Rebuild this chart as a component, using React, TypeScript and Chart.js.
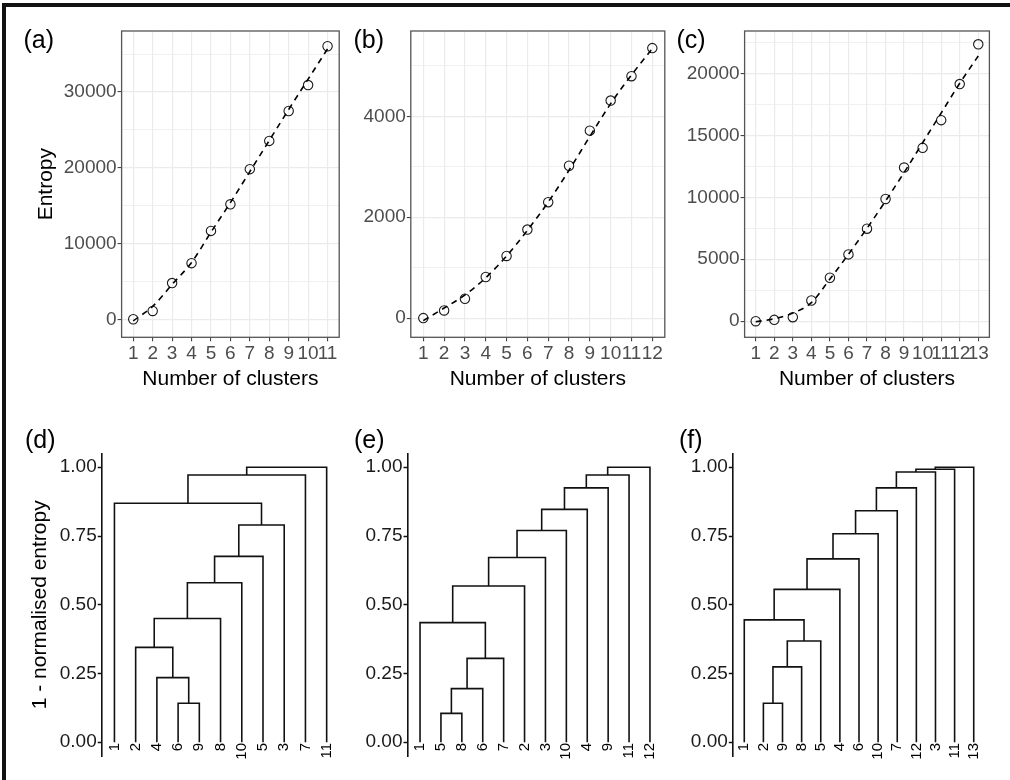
import React, { useEffect, useRef } from 'react';
import { Chart, registerables } from 'chart.js';
Chart.register(...registerables);

const FONT = '"Liberation Sans", Arial, Helvetica, sans-serif';
Chart.defaults.font.family = FONT;

// ---------- data: entropy vs number of clusters ----------
const clustersA = [1, 2, 3, 4, 5, 6, 7, 8, 9, 10, 11];
const entropyA = [0, 1100, 4780, 7410, 11670, 15180, 19820, 23550, 27500, 30920, 36050];
const fitA = [-200, 1700, 4600, 7500, 11500, 15400, 19500, 23600, 27700, 31700, 35700];
const yMajorA = [0, 10000, 20000, 30000];
const yMinorA = [5000, 15000, 25000, 35000];

const clustersB = [1, 2, 3, 4, 5, 6, 7, 8, 9, 10, 11, 12];
const entropyB = [0, 152, 384, 815, 1232, 1755, 2298, 3020, 3715, 4311, 4795, 5351];
const fitB = [-50, 200, 460, 800, 1230, 1740, 2300, 2930, 3600, 4250, 4820, 5340];
const yMajorB = [0, 2000, 4000];
const yMinorB = [1000, 3000, 5000];

const clustersC = [1, 2, 3, 4, 5, 6, 7, 8, 9, 10, 11, 12, 13];
const entropyC = [0, 108, 323, 1671, 3504, 5391, 7466, 9865, 12399, 13989, 16226, 19137, 22345];
const fitC = [-50, 200, 650, 1500, 3400, 5400, 7500, 9700, 12000, 14400, 16800, 19200, 21400];
const yMajorC = [0, 5000, 10000, 15000, 20000];
const yMinorC = [2500, 7500, 12500, 17500, 22500];

// ---------- data: dendrograms (merges: negative = leaf position, positive = earlier merge) ----------
const leavesD = ['1', '2', '4', '6', '9', '8', '10', '5', '3', '7', '11'];
const mergesD: [number, number][] = [[-4, -5], [-3, 1], [-2, 2], [3, -6], [4, -7], [5, -8], [6, -9], [-1, 7], [8, -10], [9, -11]];
const heightsD = [0.142, 0.235, 0.345, 0.45, 0.58, 0.676, 0.79, 0.869, 0.972, 1.0];

const leavesE = ['1', '5', '8', '6', '7', '2', '3', '10', '4', '9', '11', '12'];
const mergesE: [number, number][] = [[-2, -3], [1, -4], [2, -5], [-1, 3], [4, -6], [5, -7], [6, -8], [7, -9], [8, -10], [9, -11], [10, -12]];
const heightsE = [0.105, 0.195, 0.305, 0.435, 0.568, 0.672, 0.77, 0.847, 0.925, 0.972, 1.0];

const leavesF = ['1', '2', '9', '8', '5', '4', '6', '10', '7', '12', '3', '11', '13'];
const mergesF: [number, number][] = [[-2, -3], [1, -4], [2, -5], [-1, 3], [4, -6], [5, -7], [6, -8], [7, -9], [8, -10], [9, -11], [10, -12], [11, -13]];
const heightsF = [0.142, 0.274, 0.368, 0.445, 0.556, 0.667, 0.758, 0.842, 0.925, 0.983, 0.993, 1.0];

const dendroTicks = [0, 0.25, 0.5, 0.75, 1];

// ---------- layout ----------
type Rect = { x: number; y: number; w: number; h: number };
type Area = { l: number; t: number; r: number; b: number };

const canvasA: Rect = { x: 0, y: 0, w: 345, h: 400 };
const areaA: Area = { l: 121.6, t: 31, r: 340, b: 337.3 };
const canvasB: Rect = { x: 345, y: 0, w: 330, h: 400 };
const areaB: Area = { l: 410.8, t: 31, r: 664.8, b: 337.3 };
const canvasC: Rect = { x: 675, y: 0, w: 335, h: 400 };
const areaC: Area = { l: 744.6, t: 31, r: 989.4, b: 337.3 };

const canvasD: Rect = { x: 0, y: 400, w: 345, h: 380 };
const areaD: Area = { l: 101.7, t: 453.5, r: 339.4, b: 756 };
const canvasE: Rect = { x: 345, y: 400, w: 330, h: 380 };
const areaE: Area = { l: 407.5, t: 453.5, r: 662.5, b: 756 };
const canvasF: Rect = { x: 675, y: 400, w: 335, h: 380 };
const areaF: Area = { l: 732.8, t: 453.5, r: 985.2, b: 756 };

const TICK_FONT = 19;
const TITLE_FONT = 21;

const panelBorder = {
  id: 'panelBorder',
  afterDatasetsDraw(chart: any, _args: any, opts: any) {
    if (!opts || !opts.enabled) return;
    const { ctx, chartArea: a } = chart;
    ctx.save();
    ctx.strokeStyle = opts.color;
    ctx.lineWidth = opts.width;
    ctx.strokeRect(a.left, a.top, a.right - a.left, a.bottom - a.top);
    ctx.restore();
  },
};

function layoutFor(c: Rect, a: Area) {
  return { padding: { left: 0, top: a.t - c.y, right: c.x + c.w - a.r, bottom: 0 } };
}

function entropyConfig(
  xs: number[], ys: number[], fit: number[], majors: number[], minors: number[],
  yMin: number, yMax: number, c: Rect, a: Area, yTitle: boolean
): any {
  const all = [...majors, ...minors].sort((p, q) => p - q);
  const isMajor = (v: number) => majors.includes(v);
  return {
    type: 'scatter',
    data: {
      datasets: [
        {
          data: xs.map((x, i) => ({ x, y: fit[i] })),
          showLine: true,
          borderColor: '#000',
          borderWidth: 1.6,
          borderDash: [6, 5],
          pointRadius: 0,
          cubicInterpolationMode: 'monotone',
          order: 1,
        },
        {
          data: xs.map((x, i) => ({ x, y: ys[i] })),
          showLine: false,
          pointRadius: 4.7,
          pointBorderWidth: 1.1,
          pointBorderColor: '#1a1a1a',
          pointBackgroundColor: 'rgba(0,0,0,0)',
          order: 2,
        },
      ],
    },
    options: {
      responsive: false,
      animation: false,
      events: [],
      layout: layoutFor(c, a),
      plugins: {
        legend: { display: false },
        tooltip: { enabled: false },
        panelBorder: { enabled: true, color: '#555', width: 1.3 },
      },
      scales: {
        x: {
          type: 'linear',
          min: 0.4,
          max: xs.length + 0.6,
          afterBuildTicks: (s: any) => { s.ticks = xs.map((v) => ({ value: v })); },
          afterFit: (s: any) => { s.height = c.y + c.h - a.b; s._computeLabelArea = () => undefined; },
          grid: { color: '#ebebeb', lineWidth: 1.2, drawTicks: true, tickLength: 4, tickColor: '#333', tickWidth: 1 },
          border: { display: false },
          ticks: { font: { size: TICK_FONT }, color: '#4d4d4d', padding: 1, maxRotation: 0, minRotation: 0, autoSkip: false, callback: (v: any) => String(v) },
          title: { display: true, text: 'Number of clusters', font: { size: TITLE_FONT }, color: '#000', padding: { top: 0, bottom: 8.4 } },
        },
        y: {
          type: 'linear',
          min: yMin,
          max: yMax,
          afterBuildTicks: (s: any) => { s.ticks = all.map((v) => ({ value: v })); },
          afterFit: (s: any) => { s.width = a.l - c.x; s._computeLabelArea = () => undefined; },
          grid: {
            color: '#ebebeb',
            lineWidth: (ctx: any) => (ctx.tick && isMajor(ctx.tick.value) ? 1.2 : 0.7),
            drawTicks: true,
            tickLength: 4,
            tickWidth: 1,
            tickColor: (ctx: any) => (ctx.tick && isMajor(ctx.tick.value) ? '#333' : 'rgba(0,0,0,0)'),
          },
          border: { display: false },
          ticks: { font: { size: TICK_FONT }, color: '#4d4d4d', padding: 1, autoSkip: false, callback: (v: any) => (isMajor(v) ? String(v) : '') },
          title: { display: yTitle, text: 'Entropy', font: { size: TITLE_FONT }, color: '#000', padding: { top: 33.4, bottom: 0 } },
        },
      },
    },
    plugins: [panelBorder],
  };
}

function dendroSegments(merges: [number, number][], heights: number[]) {
  const pos: number[] = [];
  const hts: number[] = [];
  const segs: { x: number; y: number }[][] = [];
  merges.forEach(([p, q], i) => {
    const xa = p < 0 ? -p : pos[p - 1];
    const ya = p < 0 ? 0 : hts[p - 1];
    const xb = q < 0 ? -q : pos[q - 1];
    const yb = q < 0 ? 0 : hts[q - 1];
    const h = heights[i];
    segs.push([{ x: xa, y: ya }, { x: xa, y: h }, { x: xb, y: h }, { x: xb, y: yb }]);
    pos.push((xa + xb) / 2);
    hts.push(h);
  });
  return segs;
}

function dendroConfig(leaves: string[], merges: [number, number][], heights: number[], c: Rect, a: Area, yTitle: boolean): any {
  const segs = dendroSegments(merges, heights);
  return {
    type: 'scatter',
    data: {
      datasets: segs.map((s) => ({
        data: s,
        showLine: true,
        borderColor: '#111',
        borderWidth: 1.6,
        pointRadius: 0,
        tension: 0,
      })),
    },
    options: {
      responsive: false,
      animation: false,
      events: [],
      layout: layoutFor(c, a),
      plugins: { legend: { display: false }, tooltip: { enabled: false } },
      scales: {
        x: {
          type: 'linear',
          min: 0.4,
          max: leaves.length + 0.6,
          afterBuildTicks: (s: any) => { s.ticks = leaves.map((_, i) => ({ value: i + 1 })); },
          afterFit: (s: any) => { s.height = c.y + c.h - a.b; s._computeLabelArea = () => undefined; },
          grid: { display: false, drawTicks: false },
          border: { display: false },
          ticks: {
            autoSkip: false, minRotation: 90, maxRotation: 90, padding: -13,
            font: { size: 15 }, color: '#000',
            callback: (v: any) => leaves[Math.round(v) - 1] ?? '',
          },
        },
        y: {
          type: 'linear',
          min: -0.05,
          max: 1.05,
          afterBuildTicks: (s: any) => { s.ticks = dendroTicks.map((v) => ({ value: v })); },
          afterFit: (s: any) => { s.width = a.l - c.x; s._computeLabelArea = () => undefined; },
          grid: { display: true, drawOnChartArea: false, drawTicks: true, tickLength: 4, tickColor: '#111', tickWidth: 1.5 },
          border: { display: true, color: '#111', width: 1.6 },
          ticks: { font: { size: TICK_FONT }, color: '#1a1a1a', padding: 1, autoSkip: false, callback: (v: any) => Number(v).toFixed(2) },
          title: { display: yTitle, text: '1 - normalised entropy', font: { size: TITLE_FONT }, color: '#000', padding: { top: 27.4, bottom: 0 } },
        },
      },
    },
  };
}

function Panel({ rect, config }: { rect: Rect; config: () => any }) {
  const ref = useRef<HTMLCanvasElement | null>(null);
  useEffect(() => {
    if (!ref.current) return;
    const chart = new Chart(ref.current, config());
    return () => chart.destroy();
  }, []);
  return (
    <canvas
      ref={ref}
      width={rect.w}
      height={rect.h}
      style={{ position: 'absolute', left: rect.x, top: rect.y, width: rect.w, height: rect.h }}
    />
  );
}

const panelLabels: { t: string; x: number; y: number }[] = [
  { t: '(a)', x: 23.5, y: 27 },
  { t: '(b)', x: 353.5, y: 27 },
  { t: '(c)', x: 676.5, y: 27 },
  { t: '(d)', x: 25, y: 427 },
  { t: '(e)', x: 354, y: 427 },
  { t: '(f)', x: 679, y: 427 },
];

export default function App() {
  return (
    <div style={{ position: 'fixed', left: 0, top: 0, width: 1010, height: 780, background: '#fff', overflow: 'hidden', fontFamily: FONT }}>
      <div style={{ position: 'absolute', left: 2, top: 3, width: 1008, height: 4, background: '#111' }} />
      <div style={{ position: 'absolute', left: 2, top: 3, width: 4, height: 777, background: '#111' }} />
      <Panel rect={canvasA} config={() => entropyConfig(clustersA, entropyA, fitA, yMajorA, yMinorA, -2380, 38060, canvasA, areaA, true)} />
      <Panel rect={canvasB} config={() => entropyConfig(clustersB, entropyB, fitB, yMajorB, yMinorB, -380, 5690, canvasB, areaB, false)} />
      <Panel rect={canvasC} config={() => entropyConfig(clustersC, entropyC, fitC, yMajorC, yMinorC, -1300, 23420, canvasC, areaC, false)} />
      <Panel rect={canvasD} config={() => dendroConfig(leavesD, mergesD, heightsD, canvasD, areaD, true)} />
      <Panel rect={canvasE} config={() => dendroConfig(leavesE, mergesE, heightsE, canvasE, areaE, false)} />
      <Panel rect={canvasF} config={() => dendroConfig(leavesF, mergesF, heightsF, canvasF, areaF, false)} />
      {panelLabels.map((p) => (
        <div key={p.t} style={{ position: 'absolute', left: p.x, top: p.y, fontSize: 25, lineHeight: 1, color: '#000', whiteSpace: 'nowrap' }}>
          {p.t}
        </div>
      ))}
    </div>
  );
}
